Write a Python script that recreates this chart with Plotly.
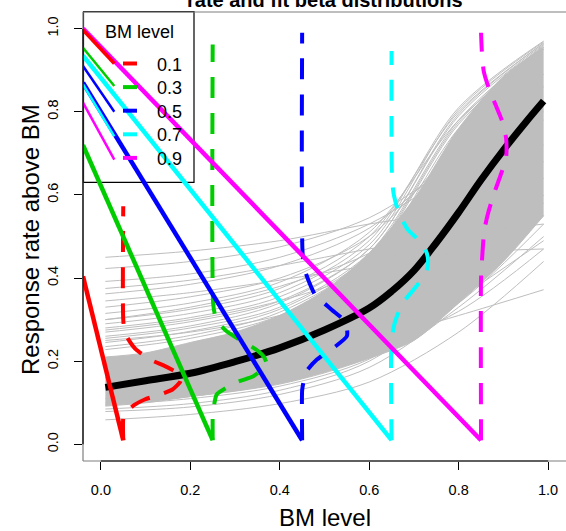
import plotly.graph_objects as go

# ---------------- data ----------------
bm_labels = ["0.1", "0.3", "0.5", "0.7", "0.9"]
line_colors = ["#FF0000", "#00CD00", "#0000FF", "#00FFFF", "#FF00FF"]
density_pos = [0.05, 0.25, 0.45, 0.65, 0.85]
density_base = 0.01

# fitted beta densities (drawn sideways): response rate (y) and horizontal offset
red_y = [0.01, 0.07, 0.082, 0.095, 0.108, 0.12, 0.132, 0.15, 0.165, 0.176, 0.19, 0.204, 0.231, 0.267, 0.30, 0.573]
red_off = [0, 0.001, 0.011, 0.025, 0.048, 0.082, 0.11, 0.127, 0.13, 0.115, 0.09, 0.06, 0.026, 0.004, 0, 0]
green_y = [0.01, 0.07, 0.083, 0.10, 0.12, 0.148, 0.164, 0.18, 0.195, 0.21, 0.224, 0.24, 0.256, 0.272, 0.29, 0.312, 0.34, 0.962]
green_off = [0, 0, 0.001, 0.004, 0.009, 0.05, 0.091, 0.11, 0.12, 0.115, 0.102, 0.08, 0.054, 0.031, 0.015, 0.005, 0.001, 0]
blue_y = [0.01, 0.13, 0.15, 0.176, 0.204, 0.232, 0.26, 0.28, 0.30, 0.324, 0.36, 0.392, 0.42, 0.46, 0.99]
blue_off = [0, 0, 0.003, 0.01, 0.033, 0.07, 0.10, 0.10, 0.092, 0.066, 0.029, 0.015, 0.006, 0.001, 0]
cyan_y = [0.01, 0.25, 0.296, 0.34, 0.372, 0.41, 0.43, 0.45, 0.47, 0.49, 0.517, 0.561, 0.60, 0.64, 0.946]
cyan_off = [0, 0, 0.008, 0.025, 0.049, 0.076, 0.081, 0.081, 0.075, 0.062, 0.036, 0.015, 0.005, 0.001, 0]
magenta_y = [0.01, 0.40, 0.44, 0.473, 0.513, 0.553, 0.60, 0.645, 0.689, 0.737, 0.778, 0.818, 0.858, 0.898, 0.942, 0.99]
magenta_off = [0, 0, 0.002, 0.004, 0.007, 0.015, 0.028, 0.043, 0.056, 0.056, 0.047, 0.032, 0.017, 0.006, 0.002, 0]
dens_y = [red_y, green_y, blue_y, cyan_y, magenta_y]
dens_off = [red_off, green_off, blue_off, cyan_off, magenta_off]

# solid lines from the plot's left edge down to the density base
edge_x = -0.04
solid_left_y = [0.404, 0.72, 0.87, 0.935, 1.0]
# short thin segments at the upper left
thin_end_x = 0.03
thin_left_y = [0.997, 0.954, 0.91, 0.866, 0.822]
thin_right_y = [0.916, 0.862, 0.80, 0.741, 0.685]

# posterior sample curves (grey), values at knots
gray_x = [0.01, 0.2, 0.4, 0.6, 0.8, 0.99]
gray_curves = [
    [0.450, 0.465, 0.490, 0.530, 0.560, 0.580],
    [0.423, 0.440, 0.475, 0.545, 0.680, 0.800],
    [0.392, 0.410, 0.450, 0.530, 0.660, 0.780],
    [0.375, 0.395, 0.430, 0.470, 0.505, 0.530],
    [0.362, 0.385, 0.430, 0.520, 0.700, 0.860],
    [0.345, 0.365, 0.395, 0.430, 0.460, 0.470],
    [0.330, 0.355, 0.400, 0.500, 0.720, 0.890],
    [0.315, 0.340, 0.390, 0.510, 0.780, 0.950],
    [0.300, 0.325, 0.375, 0.500, 0.800, 0.965],
    [0.290, 0.315, 0.365, 0.490, 0.810, 0.970],
    [0.280, 0.305, 0.355, 0.480, 0.805, 0.968],
    [0.270, 0.295, 0.345, 0.470, 0.795, 0.965],
    [0.260, 0.285, 0.340, 0.470, 0.790, 0.962],
    [0.255, 0.280, 0.330, 0.460, 0.780, 0.960],
    [0.245, 0.272, 0.325, 0.455, 0.775, 0.958],
    [0.235, 0.262, 0.318, 0.450, 0.770, 0.955],
    [0.228, 0.255, 0.310, 0.440, 0.760, 0.950],
    [0.300, 0.330, 0.380, 0.460, 0.600, 0.720],
    [0.275, 0.300, 0.345, 0.420, 0.560, 0.680],
    [0.250, 0.270, 0.310, 0.380, 0.520, 0.640],
    [0.059, 0.072, 0.098, 0.150, 0.270, 0.440],
    [0.079, 0.090, 0.120, 0.185, 0.330, 0.500],
    [0.085, 0.098, 0.130, 0.200, 0.360, 0.550],
    [0.160, 0.180, 0.210, 0.250, 0.310, 0.372],
    [0.130, 0.150, 0.180, 0.230, 0.320, 0.470],
    [0.110, 0.125, 0.155, 0.210, 0.340, 0.530],
    [0.095, 0.110, 0.140, 0.205, 0.350, 0.490],
    [0.100, 0.115, 0.150, 0.215, 0.380, 0.600],
]
# dense core of the grey sample band
core_x = [0.01, 0.1, 0.2, 0.3, 0.4, 0.5, 0.6, 0.7, 0.8, 0.9, 0.99]
core_lower = [0.092, 0.10, 0.115, 0.128, 0.145, 0.172, 0.207, 0.25, 0.34, 0.44, 0.55]
core_upper = [0.21, 0.22, 0.245, 0.27, 0.31, 0.37, 0.46, 0.59, 0.76, 0.885, 0.955]
# posterior median curve
median_x = [0.01, 0.1, 0.2, 0.3, 0.4, 0.5, 0.6, 0.65, 0.7, 0.75, 0.8, 0.85, 0.9, 0.95, 0.99]
median_y = [0.137, 0.153, 0.171, 0.199, 0.232, 0.275, 0.328, 0.368, 0.418, 0.485, 0.558, 0.636, 0.708, 0.775, 0.826]

tick_vals = [0.0, 0.2, 0.4, 0.6, 0.8, 1.0]
tick_text = ["0.0", "0.2", "0.4", "0.6", "0.8", "1.0"]

# ---------------- layout helpers ----------------
W, H = 566, 531
L, R, T, B = 83, 0, 12, 70
PW, PH = W - L - R, H - T - B


def px(x):
    return (x - L) / PW


def py(y):
    return (H - B - y) / PH


FONT = "Liberation Sans, Arial, Helvetica, sans-serif"
GRAY = "#BEBEBE"

fig = go.Figure()

# grey band core
fig.add_trace(go.Scatter(x=core_x, y=core_lower, mode="lines",
                         line=dict(color=GRAY, width=1, shape="spline", smoothing=0.8),
                         hoverinfo="skip", showlegend=False))
fig.add_trace(go.Scatter(x=core_x, y=core_upper, mode="lines", fill="tonexty",
                         fillcolor=GRAY,
                         line=dict(color=GRAY, width=1, shape="spline", smoothing=0.8),
                         hoverinfo="skip", showlegend=False))
for c in gray_curves:
    fig.add_trace(go.Scatter(x=gray_x, y=c, mode="lines",
                             line=dict(color=GRAY, width=1, shape="spline", smoothing=0.9),
                             hoverinfo="skip", showlegend=False))

# median
fig.add_trace(go.Scatter(x=median_x, y=median_y, mode="lines",
                         line=dict(color="black", width=7, shape="spline", smoothing=1.0),
                         hoverinfo="skip", showlegend=False))

# densities + solid lines
for i in range(5):
    xs = [density_pos[i] + o for o in dens_off[i]]
    fig.add_trace(go.Scatter(x=xs, y=dens_y[i], mode="lines",
                             line=dict(color=line_colors[i], width=4, dash="21px,15px",
                                       shape="spline", smoothing=0.6),
                             hoverinfo="skip", showlegend=False))
    fig.add_trace(go.Scatter(x=[edge_x, density_pos[i]], y=[solid_left_y[i], density_base],
                             mode="lines", line=dict(color=line_colors[i], width=4.5),
                             hoverinfo="skip", showlegend=False))

# thin segments
for i in range(5):
    fig.add_trace(go.Scatter(x=[edge_x, thin_end_x], y=[thin_left_y[i], thin_right_y[i]],
                             mode="lines",
                             line=dict(color=line_colors[i], width=3.5 if i == 0 else 2.5),
                             hoverinfo="skip", showlegend=False))

shapes = []
# box (grey) and axis lines (black)
shapes.append(dict(type="line", xref="paper", yref="paper", x0=0, x1=1, y0=1, y1=1,
                   line=dict(color="#7F7F7F", width=1.2)))
shapes.append(dict(type="line", xref="paper", yref="paper", x0=0, x1=1, y0=0, y1=0,
                   line=dict(color="#7F7F7F", width=1.2)))
shapes.append(dict(type="line", xref="paper", yref="paper", x0=0, x1=0, y0=0, y1=1,
                   line=dict(color="#7F7F7F", width=1.2)))
shapes.append(dict(type="line", xref="x", yref="paper", x0=tick_vals[0], x1=tick_vals[-1], y0=0, y1=0,
                   line=dict(color="black", width=1.2)))
shapes.append(dict(type="line", xref="paper", yref="y", x0=0, x1=0, y0=tick_vals[0], y1=tick_vals[-1],
                   line=dict(color="black", width=1.2)))
# legend box
shapes.append(dict(type="rect", xref="paper", yref="paper", x0=px(83.5), x1=px(194),
                   y0=py(182.3), y1=py(11.7), line=dict(color="black", width=1.2),
                   fillcolor="rgba(0,0,0,0)", layer="below"))

annotations = []
annotations.append(dict(text="BM level", xref="paper", yref="paper", x=px(139), y=py(31.5),
                        xanchor="center", yanchor="middle", showarrow=False,
                        font=dict(family=FONT, size=18, color="black")))
for i, lab in enumerate(bm_labels):
    yy = 63.5 + 23.6 * i
    shapes.append(dict(type="line", xref="paper", yref="paper", x0=px(123), x1=px(137),
                       y0=py(yy), y1=py(yy), line=dict(color=line_colors[i], width=4)))
    annotations.append(dict(text=lab, xref="paper", yref="paper", x=px(155), y=py(yy + 1),
                            xanchor="left", yanchor="middle", showarrow=False,
                            font=dict(family=FONT, size=18, color="black")))

# title (cut at top, as in the reference)
annotations.append(dict(text="<b>rate and fit beta distributions</b>", xref="paper", yref="paper",
                        x=0.5, y=1, xanchor="center", yanchor="bottom", yshift=-1,
                        showarrow=False, font=dict(family=FONT, size=20, color="black")))
# axis titles
annotations.append(dict(text="BM level", xref="paper", yref="paper", x=px(324.5), y=py(517),
                        xanchor="center", yanchor="middle", showarrow=False,
                        font=dict(family=FONT, size=24, color="black")))
annotations.append(dict(text="Response rate above BM", xref="paper", yref="paper", x=px(30),
                        y=py(240), xanchor="center", yanchor="middle", showarrow=False,
                        textangle=-90, font=dict(family=FONT, size=24, color="black")))

fig.update_layout(
    width=W, height=H,
    margin=dict(l=L, r=R, t=T, b=B, pad=0),
    paper_bgcolor="white", plot_bgcolor="white",
    showlegend=False,
    shapes=shapes, annotations=annotations,
    font=dict(family=FONT, color="black"),
    xaxis=dict(range=[-0.04, 1.04], showgrid=False, zeroline=False, showline=False,
               tickmode="array", tickvals=tick_vals, ticktext=tick_text,
               ticks="outside", ticklen=8, tickwidth=1.2, tickcolor="black",
               ticklabelstandoff=8, tickfont=dict(family=FONT, size=14.5, color="black")),
    yaxis=dict(range=[-0.04, 1.04], showgrid=False, zeroline=False, showline=False,
               tickmode="array", tickvals=tick_vals, ticktext=tick_text,
               ticks="outside", ticklen=8, tickwidth=1.2, tickcolor="black",
               tickangle=-90, ticklabelstandoff=10,
               tickfont=dict(family=FONT, size=14.5, color="black")),
)

fig.write_html("out.html")
